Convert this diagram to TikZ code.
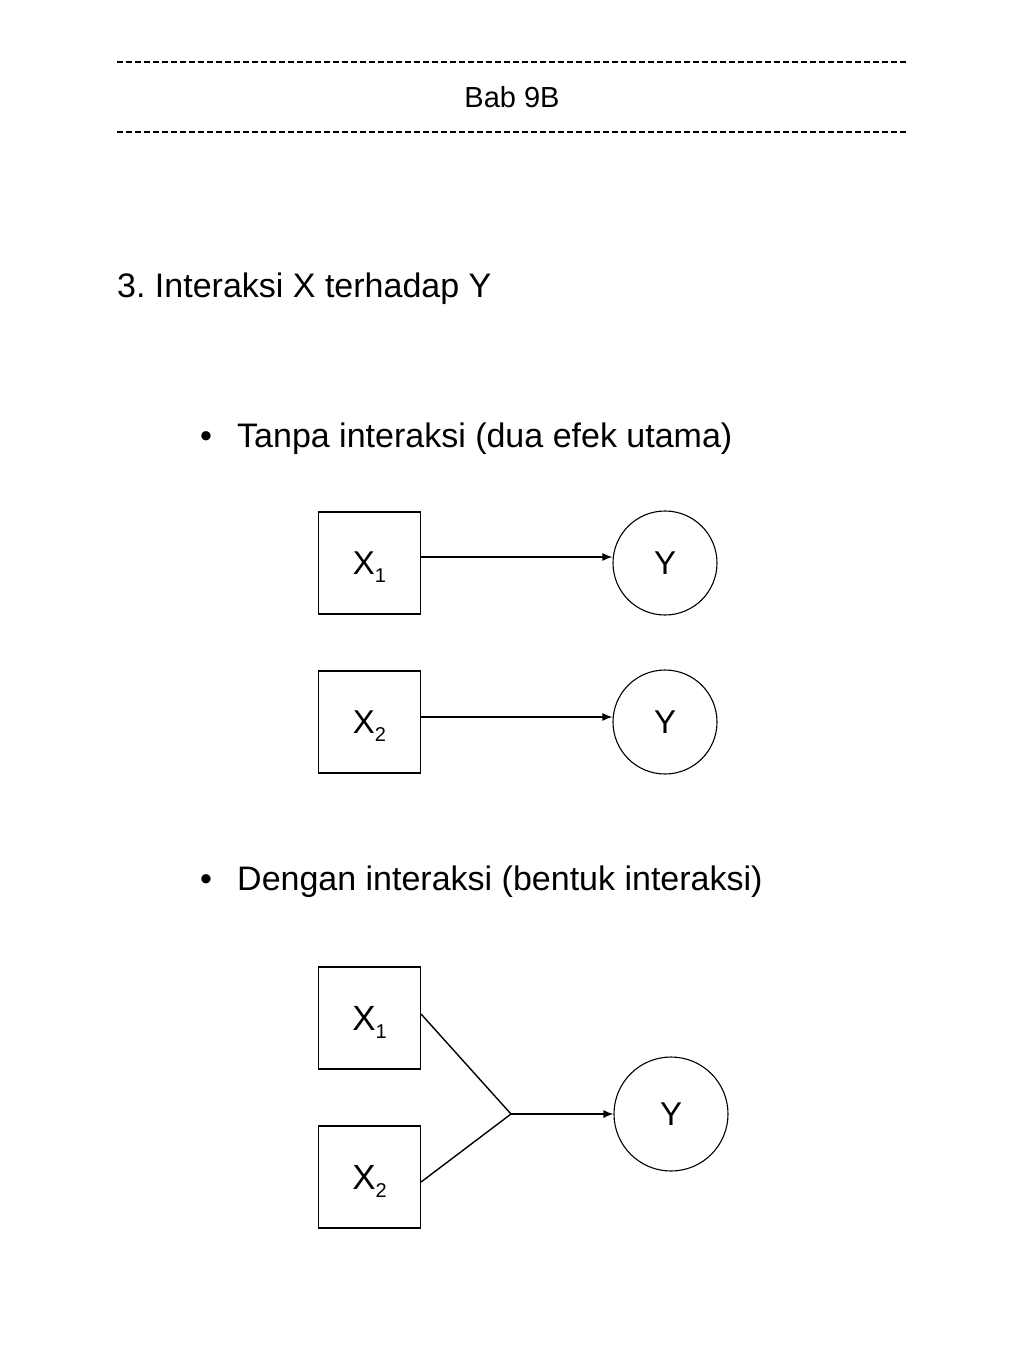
\documentclass[tikz,border=0pt]{standalone}
\usepackage{fontspec}
\setmainfont{Liberation Sans}
\usepackage{tikz}
\usetikzlibrary{shapes,positioning,calc,arrows.meta}
\frenchspacing

\newcommand{\sz}[1]{\fontsize{#1}{#1}\selectfont}
\newcommand{\lowidx}[1]{\raisebox{-8pt}[0pt][0pt]{\sz{20}#1}}

\begin{document}
\begin{tikzpicture}
     [ x=1pt, y=-1pt, >={Latex[length=10pt,width=8pt]},
       var/.style={draw, rectangle, minimum size=102pt, inner sep=0pt, line width=1.1pt, font=\sz{33}},
       dep/.style={draw, circle, minimum size=104pt, inner sep=0pt, line width=1.1pt, font=\sz{33}},
       path/.style={->, line width=1.4pt},
       rule/.style={line width=2.6pt, dash pattern=on 6pt off 3pt},
       txt/.style={anchor=base west, inner sep=0pt, font=\sz{34}}]
   \useasboundingbox (0,0) rectangle (1024,1365);
   % header
   \node (BAB) [font=\sz{29}] at (512,97) {Bab 9B};
   \draw[rule] (117,62) -- (906,62);
   \draw[rule] (117,132) -- (906,132);
   \node (TITLE) [txt] at (117,297) {3. Interaksi X terhadap Y};
   % tanpa interaksi
   \node (B1) [txt] at (200,447) {•};
   \node (T1) [txt] at (237,447) {Tanpa interaksi (dua efek utama)};
   \node (X1a) [var] at (369.5,563) {X\lowidx{1}};
   \node (Ya) [dep] at (665,563) {Y};
   \node (X2a) [var] at (369.5,722) {X\lowidx{2}};
   \node (Yb) [dep] at (665,722) {Y};
   \draw[path] ([yshift=6pt]X1a.east) -- ([yshift=6pt]Ya.west);
   \draw[path] ([yshift=5pt]X2a.east) -- ([yshift=5pt]Yb.west);
   % dengan interaksi
   \node (B2) [txt] at (200,890) {•};
   \node (T2) [txt] at (237,890) {Dengan interaksi (bentuk interaksi)};
   \node (X1b) [var, font=\sz{35}] at (369.5,1018) {X\lowidx{1}};
   \node (X2b) [var, font=\sz{35}] at (369.5,1177) {X\lowidx{2}};
   \node (Yc) [dep, minimum size=114pt] at (671,1114) {Y};
   \coordinate (J) at (511,1114);
   \draw[line width=1.4pt] ([yshift=4pt]X1b.east) -- (J) -- ([yshift=-5pt]X2b.east);
   \draw[path] (J) -- (Yc);
\end{tikzpicture}
\end{document}
